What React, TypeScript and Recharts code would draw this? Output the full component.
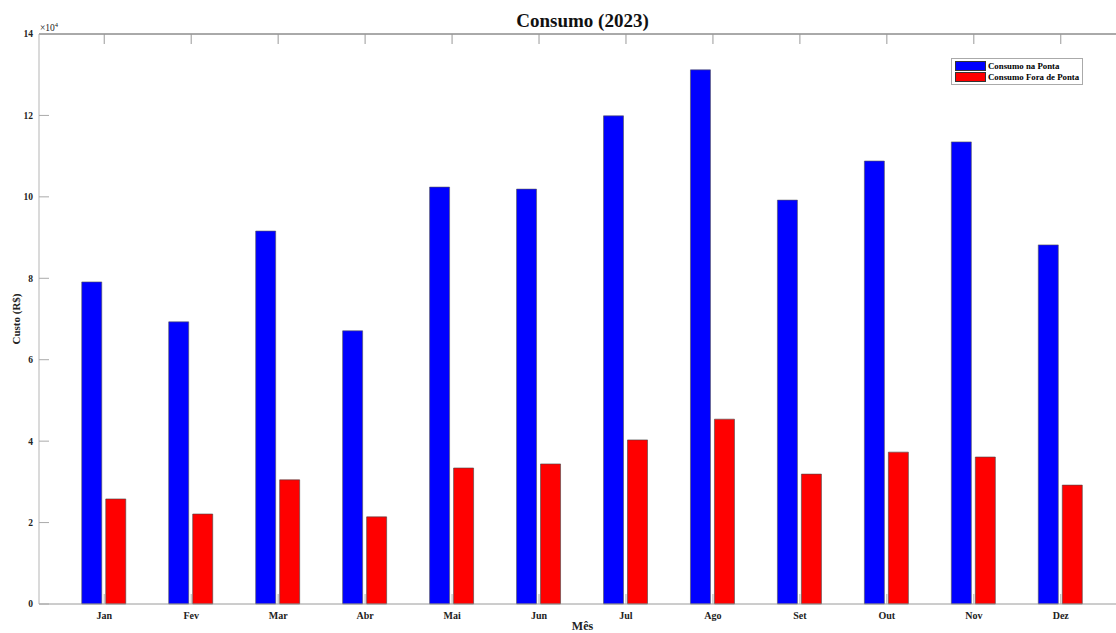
import React from 'react';
import { Bar, BarChart, XAxis, YAxis, Legend, Label } from 'recharts';

const months = ['Jan', 'Fev', 'Mar', 'Abr', 'Mai', 'Jun', 'Jul', 'Ago', 'Set', 'Out', 'Nov', 'Dez'];
const consumoPonta = [79100, 69300, 91600, 67100, 102400, 101900, 119900, 131200, 99200, 108800, 113500, 88200];
const consumoForaPonta = [25800, 22100, 30500, 21400, 33400, 34400, 40300, 45400, 31900, 37300, 36100, 29200];
const yTicks = [0, 20000, 40000, 60000, 80000, 100000, 120000, 140000];
const seriesNames = ['Consumo na Ponta', 'Consumo Fora de Ponta'];

const FONT = '"Liberation Serif", "Times New Roman", serif';

const data = months.map((m, i) => ({
  month: m,
  ponta: consumoPonta[i],
  fora: consumoForaPonta[i],
}));

const LegendBox = (props: any) => {
  const items = [...(props.payload || [])].sort(
    (a: any, b: any) => seriesNames.indexOf(a.value) - seriesNames.indexOf(b.value)
  );
  return (
    <div
      style={{
        border: '1px solid #aaa',
        background: '#fff',
        padding: '2px 3px 2px 3px',
        fontFamily: FONT,
        fontWeight: 'bold',
        fontSize: 8.8,
        lineHeight: '10.5px',
        whiteSpace: 'nowrap',
      }}
    >
      {items.map((it: any) => (
        <div key={it.value} style={{ display: 'flex', alignItems: 'center' }}>
          <span
            style={{
              display: 'inline-block',
              width: 29,
              height: 8,
              background: it.color,
              border: '0.5px solid #333',
              marginRight: 2,
            }}
          />
          <span style={{ color: '#000' }}>{it.value}</span>
        </div>
      ))}
    </div>
  );
};

const Multiplier = () => (
  <text x={40} y={31} fontFamily={FONT} fontSize={9.5} fill="#222">
    ×10
    <tspan dy={-4} fontSize={6.5}>4</tspan>
  </text>
);

const Title = () => (
  <text
    x={582.5}
    y={27}
    textAnchor="middle"
    fontFamily={FONT}
    fontWeight="bold"
    fontSize={19}
    fill="#111"
  >
    Consumo (2023)
  </text>
);

export default function App() {
  return (
    <div
      style={{
        position: 'absolute',
        left: 0,
        top: 0,
        width: 1116,
        height: 633,
        overflow: 'hidden',
        background: '#fff',
      }}
    >
      <BarChart
        width={1140}
        height={633}
        data={data}
        margin={{ top: 33, right: 14, bottom: 0, left: 0 }}
        barSize={20}
        barGap={4}
      >
        <XAxis
          xAxisId="bottom"
          dataKey="month"
          orientation="bottom"
          height={29}
          padding={{ left: 21.75, right: 21.75 }}
          axisLine={{ stroke: '#9a9a9a' }}
          tickLine={{ stroke: '#b0b0b0' }}
          tickSize={-10}
          tickMargin={18}
          tick={{ fontFamily: FONT, fontWeight: 'bold', fontSize: 10, fill: '#222' }}
          interval={0}
        >
          <Label
            value="Mês"
            position="insideBottom"
            offset={3}
            style={{ fontFamily: FONT, fontWeight: 'bold', fontSize: 12, fill: '#222' }}
          />
        </XAxis>
        <XAxis
          xAxisId="top"
          dataKey="month"
          orientation="top"
          height={1}
          padding={{ left: 21.75, right: 21.75 }}
          axisLine={{ stroke: '#555' }}
          tickLine={{ stroke: '#999' }}
          tickSize={-10}
          tick={() => <g />}
          interval={0}
        >
          <Label content={() => <Title />} />
        </XAxis>
        <YAxis
          width={39}
          domain={[0, 140000]}
          ticks={yTicks}
          tickFormatter={(v: number) => String(v / 10000)}
          axisLine={{ stroke: '#b5b5b5' }}
          tickLine={{ stroke: '#aaa' }}
          tickSize={-10}
          tickMargin={16}
          tick={{ fontFamily: FONT, fontWeight: 'bold', fontSize: 9.5, fill: '#222' }}
          interval={0}
        >
          <Label
            value="Custo (R$)"
            angle={-90}
            position="insideLeft"
            offset={16}
            style={{ textAnchor: 'middle', fontFamily: FONT, fontWeight: 'bold', fontSize: 11, fill: '#222' }}
          />
          <Label content={() => <Multiplier />} />
        </YAxis>
        <Legend
          layout="vertical"
          align="center"
          verticalAlign="middle"
          content={<LegendBox />}
          wrapperStyle={{ position: 'absolute', left: 951, top: 58, width: 'auto', height: 'auto' }}
        />
        <Bar
          xAxisId="bottom"
          dataKey="ponta"
          name="Consumo na Ponta"
          fill="#0000ff"
          stroke="#555"
          strokeWidth={0.6}
          isAnimationActive={false}
        />
        <Bar
          xAxisId="bottom"
          dataKey="fora"
          name="Consumo Fora de Ponta"
          fill="#ff0000"
          stroke="#444"
          strokeWidth={0.6}
          isAnimationActive={false}
        />
      </BarChart>
    </div>
  );
}
